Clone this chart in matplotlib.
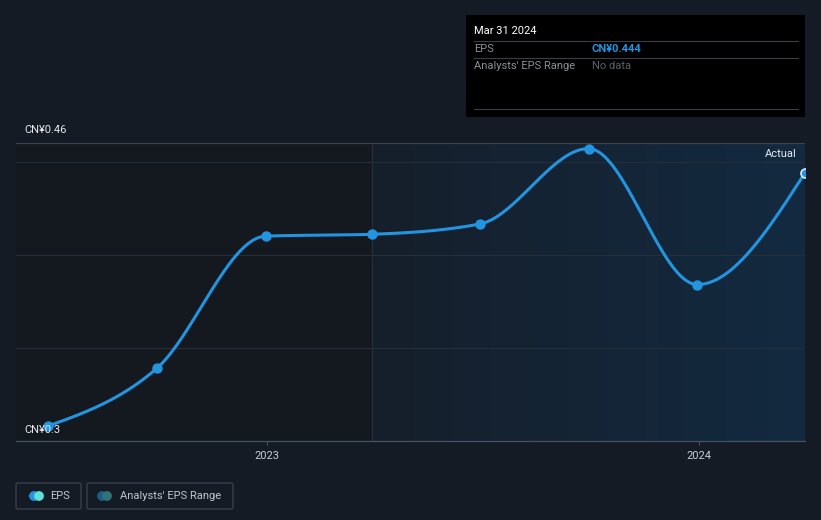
import matplotlib.pyplot as plt
import matplotlib.dates as mdates
from matplotlib.patches import Rectangle, FancyBboxPatch, Circle
from matplotlib.colors import LinearSegmentedColormap
import numpy as np

plt.rcParams['font.family'] = ['Roboto', 'DejaVu Sans']

# EPS data (CN¥), quarterly
dates = ["2022-06-30", "2022-09-30", "2022-12-31", "2023-03-31",
         "2023-06-30", "2023-09-30", "2023-12-31", "2024-03-31"]
eps = [0.308, 0.339, 0.410, 0.411, 0.4165, 0.457, 0.384, 0.444]
y_ticks = [0.35, 0.40, 0.45]
x_ticks = ["2023-01-01", "2024-01-01"]
x_tick_labels = ["2023", "2024"]
forecast_start = "2023-03-31"

BG = "#151b24"
LINE = "#2394df"

x = mdates.datestr2num(dates)
y = np.array(eps)


def monotone_curve(x, y, n=40):
    # d3 curveMonotoneX style rendering
    h = np.diff(x)
    s = np.diff(y) / h
    t = np.zeros(len(x))
    for i in range(1, len(x) - 1):
        p = (s[i - 1] * h[i] + s[i] * h[i - 1]) / (h[i - 1] + h[i])
        t[i] = (np.sign(s[i - 1]) + np.sign(s[i])) * min(abs(s[i - 1]), abs(s[i]), 0.5 * abs(p))
    t[0] = (3 * s[0] - t[1]) / 2
    t[-1] = (3 * s[-1] - t[-2]) / 2
    xs, ys = [], []
    for i in range(len(x) - 1):
        u = np.linspace(0, 1, n)
        h00 = 2 * u**3 - 3 * u**2 + 1
        h10 = u**3 - 2 * u**2 + u
        h01 = -2 * u**3 + 3 * u**2
        h11 = u**3 - u**2
        xs.append(x[i] + u * h[i])
        ys.append(h00 * y[i] + h10 * h[i] * t[i] + h01 * y[i + 1] + h11 * h[i] * t[i + 1])
    return np.concatenate(xs), np.concatenate(ys)


fig = plt.figure(figsize=(8.21, 5.20), dpi=100)
fig.patch.set_facecolor(BG)

W, H = 821, 520
ax = fig.add_axes([16 / W, 1 - 441 / H, (805 - 16) / W, (441 - 143) / H])
ax.set_facecolor("#141920")
xmin = mdates.datestr2num("2022-06-03")
xmax = mdates.datestr2num("2024-03-31")
ax.set_xlim(xmin, xmax)
ax.set_ylim(0.3, 0.46)

# shaded region after forecast start (gradient)
fs = mdates.datestr2num(forecast_start)
grad = np.linspace(0, 1, 256).reshape(1, -1)
cmap = LinearSegmentedColormap.from_list("g", ["#161f2b", "#132a40"])
ax.imshow(grad, cmap=cmap, extent=[fs, xmax, 0.3, 0.46], aspect="auto", zorder=0)
ax.axvline(fs, color="#26303d", lw=0.8, zorder=1)

for v in y_ticks:
    ax.axhline(v, color="#262e3a", lw=0.8, zorder=1)
ax.axhline(0.46, color="#3a4150", lw=0.9, zorder=1)

for s in ["top", "right", "left"]:
    ax.spines[s].set_visible(False)
ax.spines["bottom"].set_color("#4a5160")
ax.spines["bottom"].set_linewidth(0.9)
ax.set_yticks([])
ax.set_xticks(mdates.datestr2num(x_ticks))
ax.set_xticklabels(x_tick_labels, color="#c8ccd2", fontsize=8)
ax.tick_params(axis="x", length=3, color="#4a5160", pad=4)

cx, cy = monotone_curve(x, y)
ax.plot(cx, cy, color=LINE, lw=2.2, zorder=3, solid_capstyle="round")
ax.plot(x[:-1], y[:-1], "o", color=LINE, ms=6.5, zorder=4)
ax.plot(x[-1:], y[-1:], "o", color=LINE, mec="#dce9f5", mew=1.2, ms=6.5, zorder=4, clip_on=True)

ax.text(0.99, 0.963, "Actual", transform=ax.transAxes, ha="right", va="center",
        color="#e8eaee", fontsize=8)

# y labels
fig.text(24 / W, 1 - 130 / H, "CN¥0.46", color="#e8eaee", fontsize=8, va="center")
fig.text(24 / W, 1 - 430 / H, "CN¥0.3", color="#e8eaee", fontsize=8, va="center")

# tooltip box
fig.patches.append(Rectangle((466 / W, 1 - 117 / H), (805 - 466) / W, (117 - 15) / H,
                             transform=fig.transFigure, facecolor="#000000",
                             edgecolor="none", zorder=5))
for yy in [41, 58, 109]:
    fig.lines.append(plt.Line2D([474 / W, 798 / W], [1 - yy / H] * 2, transform=fig.transFigure,
                                color="#3a3f47", lw=0.8, zorder=6))
fig.text(474 / W, 1 - 31 / H, "Mar 31 2024", color="#ffffff", fontsize=8, va="center", zorder=7)
fig.text(474 / W, 1 - 49 / H, "EPS", color="#8a8f97", fontsize=8, va="center", zorder=7)
fig.text(592 / W, 1 - 49 / H, "CN¥0.444", color=LINE, fontsize=8, va="center",
         fontweight="bold", zorder=7)
fig.text(474 / W, 1 - 66 / H, "Analysts' EPS Range", color="#8a8f97", fontsize=8,
         va="center", zorder=7)
fig.text(592 / W, 1 - 66 / H, "No data", color="#5c6169", fontsize=8, va="center", zorder=7)

# legend
for (x0, x1) in [(16, 81), (87, 233)]:
    fig.patches.append(FancyBboxPatch((x0 / W, 1 - 509 / H), (x1 - x0) / W, 26 / H,
                                      boxstyle="round,pad=0,rounding_size=0.003",
                                      transform=fig.transFigure, facecolor="none",
                                      edgecolor="#3c4350", lw=0.9))
lax = fig.add_axes([0, 0, 1, 1], facecolor="none")
lax.set_xlim(0, W)
lax.set_ylim(H, 0)
lax.axis("off")
lax.add_patch(Circle((34, 496), 4.2, color="#2394df", zorder=2))
lax.add_patch(Circle((39, 496), 4.2, color="#5ee0d6", zorder=3))
lax.add_patch(Circle((102, 496), 4.2, color="#1f5a8a", zorder=2))
lax.add_patch(Circle((107, 496), 4.2, color="#2e7478", zorder=3))
lax.text(50, 496, "EPS", color="#c0c4cc", fontsize=8, va="center")
lax.text(120, 496, "Analysts' EPS Range", color="#c0c4cc", fontsize=8, va="center")

fig.savefig("out.png", dpi=100, facecolor=BG)
